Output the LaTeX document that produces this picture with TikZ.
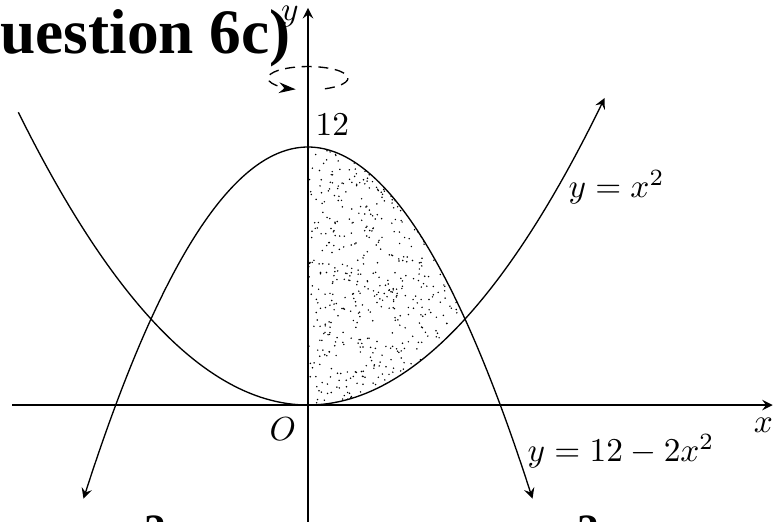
\documentclass[tikz,border=0pt]{standalone}
\usepackage{fontspec}
\usetikzlibrary{arrows.meta}
\newfontfamily\titlefont{Liberation Serif}

\begin{document}
\begin{tikzpicture}[x=23.55pt,y=6.45pt,>=stealth]
  \useasboundingbox (-92.4pt,-34.8pt) rectangle (139.5pt,121.5pt);
  \node[anchor=base west,inner sep=0pt,font=\titlefont\fontsize{19}{22}\selectfont\bfseries] (title) at (-107.2pt,105.6pt) {Question 6c)};
  % stippled region between the two curves
  \begin{scope}
    \clip (0,0) -- plot[domain=0:2,smooth] (\x,{\x*\x}) -- plot[domain=2:0,smooth] (\x,{12-2*\x*\x}) -- cycle;
    \pgfmathsetseed{7}
    \foreach \i in {1,...,700}\fill (2*rnd,12*rnd) circle(0.25pt);
  \end{scope}
  \draw[->] (-3.77,0)--(5.92,0); \draw[->] (0,-5.6)--(0,18.47);
  \draw[->] plot[domain=-3.69:3.78,samples=80,smooth] (\x,{\x*\x});
  \draw[<->] plot[domain=-2.86:2.86,samples=80,smooth] (\x,{12-2*\x*\x});
  \draw[densely dashed,-{Stealth[length=5pt,width=3.2pt]}] (0,15.2) ++(-65:12pt and 3.5pt) arc[start angle=-65,end angle=252,x radius=12pt,y radius=3.5pt];
  \node (ylab) at (-0.23,18.05) {$y$};
  \node (xlab) at (5.80,-0.93) {$x$};
  \node (orig) at (-0.32,-1.12) {$O$};
  \node (top) at (0.31,13.02) {$12$};
  \node[anchor=base west,inner sep=0pt] (parab) at (3.31,9.63) {$y=x^2$};
  \node[anchor=base west,inner sep=0pt] (cap) at (2.79,-2.65) {$y=12-2x^2$};
  \node[anchor=base,font=\titlefont\fontsize{13}{15}\selectfont\bfseries] (cutl) at (-45.9pt,-41.8pt) {2};
  \node[anchor=base,font=\titlefont\fontsize{13}{15}\selectfont\bfseries] (cutr) at (84pt,-41.8pt) {2};
\end{tikzpicture}
\end{document}
